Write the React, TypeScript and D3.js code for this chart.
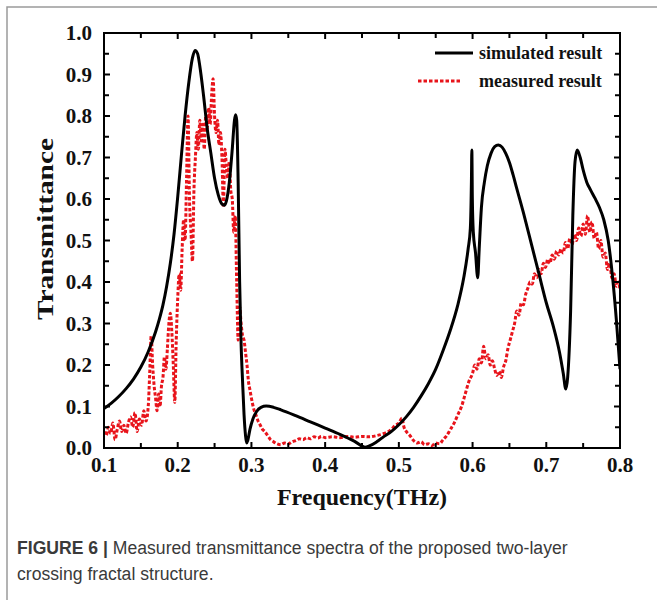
import React from 'react';
import * as d3 from 'd3';

const simFreq = [0.100, 0.110, 0.120, 0.130, 0.140, 0.150, 0.160, 0.170, 0.175, 0.180, 0.185, 0.190, 0.195, 0.200, 0.205, 0.210, 0.215, 0.220, 0.2235, 0.227, 0.230, 0.235, 0.240, 0.245, 0.250, 0.255, 0.260, 0.263, 0.266, 0.270, 0.274, 0.277, 0.2785, 0.280, 0.282, 0.284, 0.286, 0.288, 0.290, 0.292, 0.2935, 0.295, 0.298, 0.302, 0.307, 0.313, 0.320, 0.330, 0.340, 0.360, 0.380, 0.400, 0.420, 0.440, 0.454, 0.460, 0.470, 0.480, 0.490, 0.500, 0.510, 0.520, 0.530, 0.540, 0.550, 0.560, 0.570, 0.580, 0.588, 0.594, 0.597, 0.5985, 0.599, 0.5997, 0.601, 0.604, 0.607, 0.609, 0.612, 0.616, 0.620, 0.625, 0.630, 0.635, 0.640, 0.645, 0.650, 0.655, 0.660, 0.670, 0.680, 0.690, 0.700, 0.710, 0.718, 0.723, 0.7265, 0.729, 0.733, 0.736, 0.739, 0.742, 0.746, 0.750, 0.755, 0.760, 0.766, 0.772, 0.778, 0.784, 0.790, 0.795, 0.800];
const simT = [0.095, 0.108, 0.124, 0.143, 0.166, 0.195, 0.232, 0.280, 0.310, 0.345, 0.390, 0.445, 0.515, 0.605, 0.705, 0.800, 0.880, 0.940, 0.958, 0.950, 0.920, 0.850, 0.770, 0.710, 0.650, 0.610, 0.588, 0.585, 0.595, 0.640, 0.720, 0.790, 0.803, 0.790, 0.640, 0.400, 0.250, 0.160, 0.080, 0.030, 0.012, 0.018, 0.045, 0.070, 0.088, 0.098, 0.101, 0.098, 0.092, 0.078, 0.063, 0.048, 0.033, 0.016, 0.002, 0.005, 0.015, 0.028, 0.040, 0.056, 0.075, 0.098, 0.125, 0.155, 0.190, 0.235, 0.285, 0.345, 0.410, 0.480, 0.530, 0.650, 0.718, 0.600, 0.520, 0.470, 0.410, 0.480, 0.580, 0.640, 0.680, 0.710, 0.726, 0.730, 0.725, 0.710, 0.688, 0.658, 0.625, 0.560, 0.490, 0.420, 0.350, 0.290, 0.230, 0.180, 0.142, 0.170, 0.330, 0.560, 0.690, 0.718, 0.700, 0.670, 0.640, 0.622, 0.602, 0.580, 0.550, 0.500, 0.410, 0.310, 0.190];

const measFreq = [0.100, 0.103, 0.106, 0.109, 0.112, 0.115, 0.118, 0.121, 0.124, 0.127, 0.130, 0.133, 0.136, 0.139, 0.142, 0.145, 0.148, 0.151, 0.154, 0.157, 0.160, 0.162, 0.164, 0.166, 0.168, 0.170, 0.172, 0.174, 0.176, 0.178, 0.180, 0.182, 0.184, 0.186, 0.188, 0.190, 0.192, 0.194, 0.196, 0.198, 0.200, 0.202, 0.204, 0.206, 0.208, 0.210, 0.212, 0.214, 0.216, 0.218, 0.220, 0.222, 0.224, 0.226, 0.228, 0.230, 0.232, 0.234, 0.236, 0.238, 0.240, 0.242, 0.244, 0.246, 0.248, 0.250, 0.252, 0.254, 0.256, 0.258, 0.260, 0.262, 0.264, 0.266, 0.268, 0.270, 0.272, 0.274, 0.276, 0.278, 0.280, 0.282, 0.284, 0.286, 0.288, 0.290, 0.292, 0.294, 0.296, 0.298, 0.300, 0.303, 0.306, 0.309, 0.312, 0.315, 0.318, 0.322, 0.326, 0.330, 0.335, 0.340, 0.345, 0.350, 0.355, 0.360, 0.365, 0.370, 0.375, 0.380, 0.385, 0.390, 0.395, 0.400, 0.410, 0.420, 0.430, 0.440, 0.450, 0.460, 0.470, 0.480, 0.490, 0.495, 0.500, 0.504, 0.507, 0.510, 0.515, 0.520, 0.525, 0.530, 0.535, 0.540, 0.545, 0.550, 0.555, 0.560, 0.565, 0.570, 0.575, 0.580, 0.585, 0.590, 0.595, 0.600, 0.603, 0.606, 0.609, 0.612, 0.615, 0.618, 0.621, 0.624, 0.627, 0.630, 0.633, 0.636, 0.639, 0.642, 0.645, 0.648, 0.651, 0.654, 0.657, 0.660, 0.663, 0.666, 0.669, 0.672, 0.675, 0.678, 0.681, 0.684, 0.687, 0.690, 0.693, 0.696, 0.699, 0.702, 0.705, 0.708, 0.711, 0.714, 0.717, 0.720, 0.723, 0.726, 0.729, 0.732, 0.735, 0.738, 0.741, 0.744, 0.747, 0.750, 0.753, 0.756, 0.759, 0.762, 0.765, 0.768, 0.771, 0.774, 0.777, 0.780, 0.783, 0.786, 0.789, 0.792, 0.795, 0.798, 0.800];
const measT = [0.040, 0.030, 0.050, 0.035, 0.060, 0.020, 0.045, 0.065, 0.040, 0.055, 0.035, 0.060, 0.075, 0.050, 0.085, 0.040, 0.070, 0.055, 0.090, 0.065, 0.100, 0.180, 0.270, 0.200, 0.150, 0.120, 0.090, 0.130, 0.100, 0.150, 0.170, 0.220, 0.190, 0.240, 0.300, 0.325, 0.280, 0.200, 0.110, 0.260, 0.360, 0.420, 0.380, 0.480, 0.550, 0.500, 0.650, 0.800, 0.600, 0.520, 0.450, 0.620, 0.700, 0.760, 0.720, 0.790, 0.740, 0.780, 0.720, 0.800, 0.770, 0.820, 0.780, 0.850, 0.890, 0.800, 0.760, 0.790, 0.730, 0.760, 0.700, 0.580, 0.720, 0.680, 0.650, 0.690, 0.620, 0.600, 0.520, 0.560, 0.400, 0.260, 0.340, 0.300, 0.270, 0.260, 0.230, 0.200, 0.160, 0.140, 0.120, 0.095, 0.080, 0.065, 0.055, 0.045, 0.040, 0.030, 0.020, 0.015, 0.010, 0.008, 0.012, 0.010, 0.015, 0.018, 0.022, 0.020, 0.025, 0.022, 0.027, 0.024, 0.028, 0.025, 0.027, 0.025, 0.028, 0.026, 0.028, 0.027, 0.030, 0.035, 0.045, 0.055, 0.060, 0.072, 0.050, 0.040, 0.030, 0.018, 0.012, 0.015, 0.008, 0.010, 0.006, 0.012, 0.010, 0.020, 0.030, 0.045, 0.060, 0.080, 0.100, 0.130, 0.160, 0.180, 0.200, 0.190, 0.215, 0.205, 0.245, 0.215, 0.225, 0.200, 0.210, 0.190, 0.175, 0.185, 0.170, 0.195, 0.210, 0.240, 0.260, 0.280, 0.300, 0.330, 0.320, 0.350, 0.345, 0.370, 0.385, 0.400, 0.395, 0.420, 0.410, 0.430, 0.420, 0.445, 0.435, 0.455, 0.445, 0.465, 0.455, 0.475, 0.465, 0.480, 0.470, 0.495, 0.480, 0.505, 0.490, 0.515, 0.500, 0.530, 0.510, 0.540, 0.515, 0.560, 0.520, 0.545, 0.505, 0.520, 0.480, 0.500, 0.460, 0.470, 0.430, 0.445, 0.410, 0.420, 0.390, 0.400, 0.380];

const xTickValues = [0.1, 0.2, 0.3, 0.4, 0.5, 0.6, 0.7, 0.8];
const yTickValues = [0.0, 0.1, 0.2, 0.3, 0.4, 0.5, 0.6, 0.7, 0.8, 0.9, 1.0];
const seriesNames = ['simulated result', 'measured result'];
const xTitle = 'Frequency(THz)';
const yTitle = 'Transmittance';
const captionHead = 'FIGURE 6 |';
const captionLine1 = ' Measured transmittance spectra of the proposed two-layer';
const captionLine2 = 'crossing fractal structure.';

export default function App() {
  const W = 657, H = 600;
  const L = 104, R = 620, T = 33, B = 448;
  const x = d3.scaleLinear().domain([0.1, 0.8]).range([L, R]);
  const y = d3.scaleLinear().domain([0, 1]).range([B, T]);
  const line = d3.line<[number, number]>().x(d => x(d[0])).y(d => y(d[1])).curve(d3.curveMonotoneX);
  const simPts = simFreq.map((f, i) => [f, simT[i]] as [number, number]);
  const measPts = measFreq.map((f, i) => [f, measT[i]] as [number, number]);
  const xMinor = xTickValues.slice(0, -1).map((v, i) => (v + xTickValues[i + 1]) / 2);
  const yMinor = yTickValues.slice(0, -1).map((v, i) => (v + yTickValues[i + 1]) / 2);
  const serif = '"Liberation Serif", "Times New Roman", serif';
  const sans = '"Liberation Sans", Arial, sans-serif';
  const tk = 6, tkm = 5;
  const red = '#e8141b';
  return (
    <svg width={W} height={H} style={{ position: 'absolute', left: 0, top: 0, background: '#fff' }}>
      <defs>
        <clipPath id="plot"><rect x={L} y={T} width={R - L} height={B - T} /></clipPath>
      </defs>
      <path d={`M7,${H} V7 H${W}`} fill="none" stroke="#9a9a9a" strokeWidth={1.5} />
      <g clipPath="url(#plot)">
        <path d={line(measPts) || ''} fill="none" stroke={red} strokeWidth={3} strokeDasharray="3.5,2" />
        <path d={line(simPts) || ''} fill="none" stroke="#000" strokeWidth={3} />
      </g>
      <rect x={L} y={T} width={R - L} height={B - T} fill="none" stroke="#000" strokeWidth={2} />
      {xTickValues.concat(xMinor).map((v, i) => {
        const len = i < xTickValues.length ? tk : tkm;
        return (
          <g key={'xt' + i}>
            <line x1={x(v)} x2={x(v)} y1={B} y2={B - len} stroke="#000" strokeWidth={2} />
            <line x1={x(v)} x2={x(v)} y1={T} y2={T + len} stroke="#000" strokeWidth={2} />
          </g>
        );
      })}
      {yTickValues.concat(yMinor).map((v, i) => {
        const len = i < yTickValues.length ? tk : tkm;
        return (
          <g key={'yt' + i}>
            <line x1={L} x2={L + len} y1={y(v)} y2={y(v)} stroke="#000" strokeWidth={2} />
            <line x1={R} x2={R - len} y1={y(v)} y2={y(v)} stroke="#000" strokeWidth={2} />
          </g>
        );
      })}
      {xTickValues.map(v => (
        <text key={'xl' + v} x={x(v)} y={B + 24} textAnchor="middle" fontFamily={serif} fontWeight="bold" fontSize={21} fill="#111">{v.toFixed(1)}</text>
      ))}
      {yTickValues.map(v => (
        <text key={'yl' + v} x={L - 12} y={y(v) + 7} textAnchor="end" fontFamily={serif} fontWeight="bold" fontSize={21} fill="#111">{v.toFixed(1)}</text>
      ))}
      <text x={(L + R) / 2} y={505} textAnchor="middle" fontFamily={serif} fontWeight="bold" fontSize={24} fill="#111">{xTitle}</text>
      <text transform={`translate(53,229) rotate(-90)`} textAnchor="middle" fontFamily={serif} fontWeight="bold" fontSize={24} fill="#111" textLength={182} lengthAdjust="spacingAndGlyphs">{yTitle}</text>
      <line x1={435} x2={473} y1={53} y2={53} stroke="#000" strokeWidth={3} />
      <text x={479} y={59} fontFamily={serif} fontWeight="bold" fontSize={18} fill="#111">{seriesNames[0]}</text>
      <line x1={418} x2={460} y1={81} y2={81} stroke={red} strokeWidth={3} strokeDasharray="3.5,2" />
      <text x={479} y={87} fontFamily={serif} fontWeight="bold" fontSize={18} fill="#111">{seriesNames[1]}</text>
      <text x={17} y={554} fontFamily={sans} fontSize={17.6} fill="#3a3a3a">
        <tspan fontWeight="bold">{captionHead}</tspan>
        <tspan>{captionLine1}</tspan>
      </text>
      <text x={17} y={580} fontFamily={sans} fontSize={17.6} fill="#3a3a3a">{captionLine2}</text>
    </svg>
  );
}
